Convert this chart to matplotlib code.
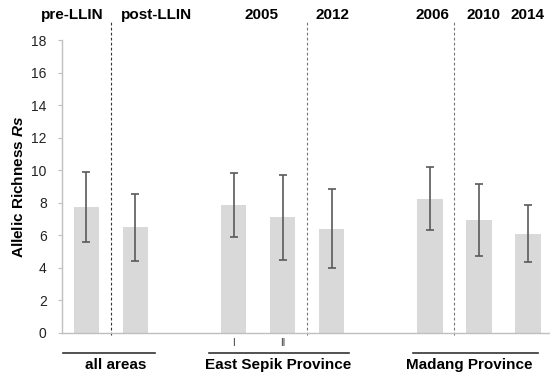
import numpy as np
import matplotlib.pyplot as plt

plt.rcParams['font.family'] = ['Liberation Sans', 'DejaVu Sans']
plt.rcParams['mathtext.fontset'] = 'custom'
plt.rcParams['mathtext.bfit'] = 'Liberation Sans:italic:bold'

# allelic richness per sample set, with SD
sample_sets = ['pre-LLIN', 'post-LLIN', 'ESP 2005 I', 'ESP 2005 II', 'ESP 2012',
               'MP 2006', 'MP 2010', 'MP 2014']
richness = [7.72, 6.49, 7.84, 7.10, 6.42, 8.24, 6.95, 6.10]
richness_sd = [2.15, 2.08, 1.96, 2.60, 2.40, 1.93, 2.22, 1.75]

top_labels = ['pre-LLIN', 'post-LLIN', '2005', '2012', '2006', '2010', '2014']
sub_labels = ['I', 'II']
group_labels = ['all areas', 'East Sepik Province', 'Madang Province']

# layout
bar_x = [0, 1, 3, 4, 5, 7, 8, 9]
top_x = [-0.3, 1.43, 3.57, 5.02, 7.06, 8.1, 9.0]
sub_x = [3, 4]
divider_x = [0.5, 4.5, 7.5]
group_spans = [(-0.47, 1.39), (2.51, 5.35), (6.67, 9.22)]
group_x = [0.59, 3.92, 7.82]

fig = plt.figure(figsize=(5.5, 3.75), dpi=100)
ax = fig.add_axes([0.1127, 0.112, 0.891, 0.7813])

ax.bar(bar_x, richness, width=0.53, color='#d9d9d9', zorder=2)
ax.errorbar(bar_x, richness, yerr=richness_sd, fmt='none', ecolor='#5a5a5a',
            elinewidth=1.2, capsize=3, capthick=1.2, zorder=3)

ax.set_xlim(-0.5, 9.5)
ax.set_ylim(0, 18)
ax.set_yticks(np.arange(0, 19, 2))
ax.set_xticks([])
ax.tick_params(axis='y', length=3, color='#bfbfbf', labelsize=10, labelcolor='#222222', pad=8)
for side in ['top', 'right']:
    ax.spines[side].set_visible(False)
for side in ['left', 'bottom']:
    ax.spines[side].set_color('#bfbfbf')
    ax.spines[side].set_linewidth(1.0)

ax.set_ylabel('Allelic Richness $\\mathbfit{Rs}$', fontsize=11, fontweight='bold', labelpad=4)

for i, x in enumerate(divider_x):
    c = '#333333' if i == 0 else '#777777'
    ax.plot([x, x], [-0.1, 19.2], color=c, lw=0.8, ls=(0, (2.5, 2)),
            clip_on=False, zorder=1)

for x, lab in zip(top_x, top_labels):
    ax.text(x, 19.55, lab, ha='center', va='center', fontsize=11, fontweight='bold')

for x, lab in zip(sub_x, sub_labels):
    ax.text(x, -0.62, lab, ha='center', va='center', fontsize=7, color='#333333')

for (x0, x1), x, lab in zip(group_spans, group_x, group_labels):
    ax.plot([x0, x1], [-1.23, -1.23], color='#333333', lw=1.2, clip_on=False)
    ax.text(x, -1.98, lab, ha='center', va='center', fontsize=11, fontweight='bold')

fig.savefig('out.png', dpi=100)
